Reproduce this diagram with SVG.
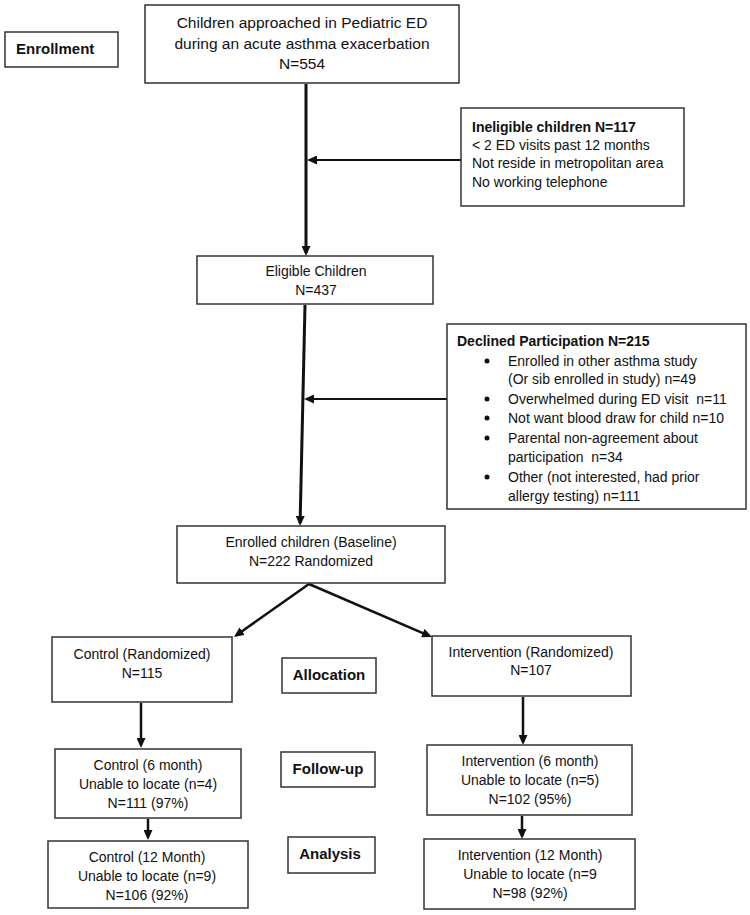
<svg xmlns="http://www.w3.org/2000/svg" width="750" height="915" viewBox="0 0 750 915">
<style>
.box{fill:#fff;stroke:#333;stroke-width:1.5}
.t{font-family:"Liberation Sans",Arial,sans-serif;font-size:14px;fill:#111}
.c{text-anchor:middle}
.b{font-weight:bold}
.lbl{font-family:"Liberation Sans",Arial,sans-serif;font-size:15px;font-weight:bold;fill:#111;text-anchor:middle}
.big{font-size:15.5px}
.ln{stroke:#111;fill:none}
</style>
<defs>
<marker id="ah" markerUnits="userSpaceOnUse" markerWidth="10" markerHeight="9" refX="7" refY="4.5" orient="auto" viewBox="0 0 10 9">
<path d="M0,0 L10,4.5 L0,9 z" fill="#111"/>
</marker>
</defs>
<rect width="750" height="915" fill="#fff"/>

<g id="connectors">
<line class="ln" x1="306" y1="84" x2="306" y2="253" stroke-width="3" marker-end="url(#ah)"/>
<line class="ln" x1="461" y1="160" x2="310" y2="160" stroke-width="2" marker-end="url(#ah)"/>
<line class="ln" x1="305" y1="305" x2="300.1" y2="523" stroke-width="3" marker-end="url(#ah)"/>
<line class="ln" x1="447" y1="399" x2="307" y2="399" stroke-width="2" marker-end="url(#ah)"/>
<line class="ln" x1="309" y1="584" x2="236.4" y2="635.2" stroke-width="2.5" marker-end="url(#ah)"/>
<line class="ln" x1="309" y1="584" x2="429.2" y2="635.8" stroke-width="2.5" marker-end="url(#ah)"/>
<line class="ln" x1="141" y1="703" x2="141" y2="745" stroke-width="2.5" marker-end="url(#ah)"/>
<line class="ln" x1="523" y1="697" x2="523" y2="742" stroke-width="2.5" marker-end="url(#ah)"/>
<line class="ln" x1="148" y1="819" x2="148" y2="837" stroke-width="2.5" marker-end="url(#ah)"/>
<line class="ln" x1="522" y1="816" x2="522" y2="836" stroke-width="2.5" marker-end="url(#ah)"/>
</g>

<g id="enrollment">
<rect class="box" x="5" y="32" width="113" height="35"/>
<text class="lbl" x="16" y="54" style="text-anchor:start">Enrollment</text>
</g>

<g id="approached">
<rect class="box" x="145" y="5" width="314" height="78"/>
<text class="t c big" x="302" y="27.5">Children approached in Pediatric ED</text>
<text class="t c big" x="302" y="48.5">during an acute asthma exacerbation</text>
<text class="t c big" x="302" y="68.5">N=554</text>
</g>

<g id="ineligible">
<rect class="box" x="461" y="108" width="223" height="98"/>
<text class="t b" x="472" y="132">Ineligible children N=117</text>
<text class="t" x="472" y="150">&lt; 2 ED visits past 12 months</text>
<text class="t" x="472" y="168">Not reside in metropolitan area</text>
<text class="t" x="472" y="187">No working telephone</text>
</g>

<g id="eligible">
<rect class="box" x="197" y="256" width="236" height="48"/>
<text class="t c" x="316" y="276">Eligible Children</text>
<text class="t c" x="316" y="295">N=437</text>
</g>

<g id="declined">
<rect class="box" x="447" y="324" width="299" height="185"/>
<text class="t b" x="457" y="346">Declined Participation N=215</text>
<circle cx="487" cy="361" r="2.5" fill="#111"/>
<circle cx="487" cy="399" r="2.5" fill="#111"/>
<circle cx="487" cy="418" r="2.5" fill="#111"/>
<circle cx="487" cy="438" r="2.5" fill="#111"/>
<circle cx="487" cy="477" r="2.5" fill="#111"/>
<text class="t" x="508" y="366">Enrolled in other asthma study</text>
<text class="t" x="508" y="384">(Or sib enrolled in study) n=49</text>
<text class="t" x="508" y="404" xml:space="preserve">Overwhelmed during ED visit  n=11</text>
<text class="t" x="508" y="423">Not want blood draw for child n=10</text>
<text class="t" x="508" y="443">Parental non-agreement about</text>
<text class="t" x="508" y="462" xml:space="preserve">participation  n=34</text>
<text class="t" x="508" y="482">Other (not interested, had prior</text>
<text class="t" x="508" y="501">allergy testing) n=111</text>
</g>

<g id="enrolled">
<rect class="box" x="177" y="526" width="268" height="57"/>
<text class="t c" x="311" y="547">Enrolled children (Baseline)</text>
<text class="t c" x="311" y="566">N=222 Randomized</text>
</g>

<g id="control">
<rect class="box" x="52" y="637" width="180" height="65"/>
<text class="t c" x="142" y="659">Control (Randomized)</text>
<text class="t c" x="142" y="678">N=115</text>
</g>

<g id="allocation">
<rect class="box" x="282" y="658" width="94" height="35"/>
<text class="lbl" x="329" y="680">Allocation</text>
</g>

<g id="intervention">
<rect class="box" x="432" y="636" width="199" height="60"/>
<text class="t c" x="531" y="657">Intervention (Randomized)</text>
<text class="t c" x="531" y="675">N=107</text>
</g>

<g id="control6">
<rect class="box" x="55" y="749" width="186" height="69"/>
<text class="t c" x="148" y="770">Control (6 month)</text>
<text class="t c" x="148" y="789">Unable to locate (n=4)</text>
<text class="t c" x="148" y="808">N=111 (97%)</text>
</g>

<g id="followup">
<rect class="box" x="281" y="752" width="94" height="35"/>
<text class="lbl" x="328" y="774">Follow-up</text>
</g>

<g id="intervention6">
<rect class="box" x="427" y="745" width="205" height="70"/>
<text class="t c" x="530" y="766">Intervention (6 month)</text>
<text class="t c" x="530" y="785">Unable to locate (n=5)</text>
<text class="t c" x="530" y="804">N=102 (95%)</text>
</g>

<g id="control12">
<rect class="box" x="48" y="841" width="200" height="67"/>
<text class="t c" x="147" y="862">Control (12 Month)</text>
<text class="t c" x="147" y="881">Unable to locate (n=9)</text>
<text class="t c" x="147" y="900">N=106 (92%)</text>
</g>

<g id="analysis">
<rect class="box" x="288" y="837" width="87" height="36"/>
<text class="lbl" x="330" y="859">Analysis</text>
</g>

<g id="intervention12">
<rect class="box" x="424" y="839" width="211" height="70"/>
<text class="t c" x="530" y="860">Intervention (12 Month)</text>
<text class="t c" x="530" y="879">Unable to locate (n=9</text>
<text class="t c" x="530" y="898">N=98 (92%)</text>
</g>
</svg>
